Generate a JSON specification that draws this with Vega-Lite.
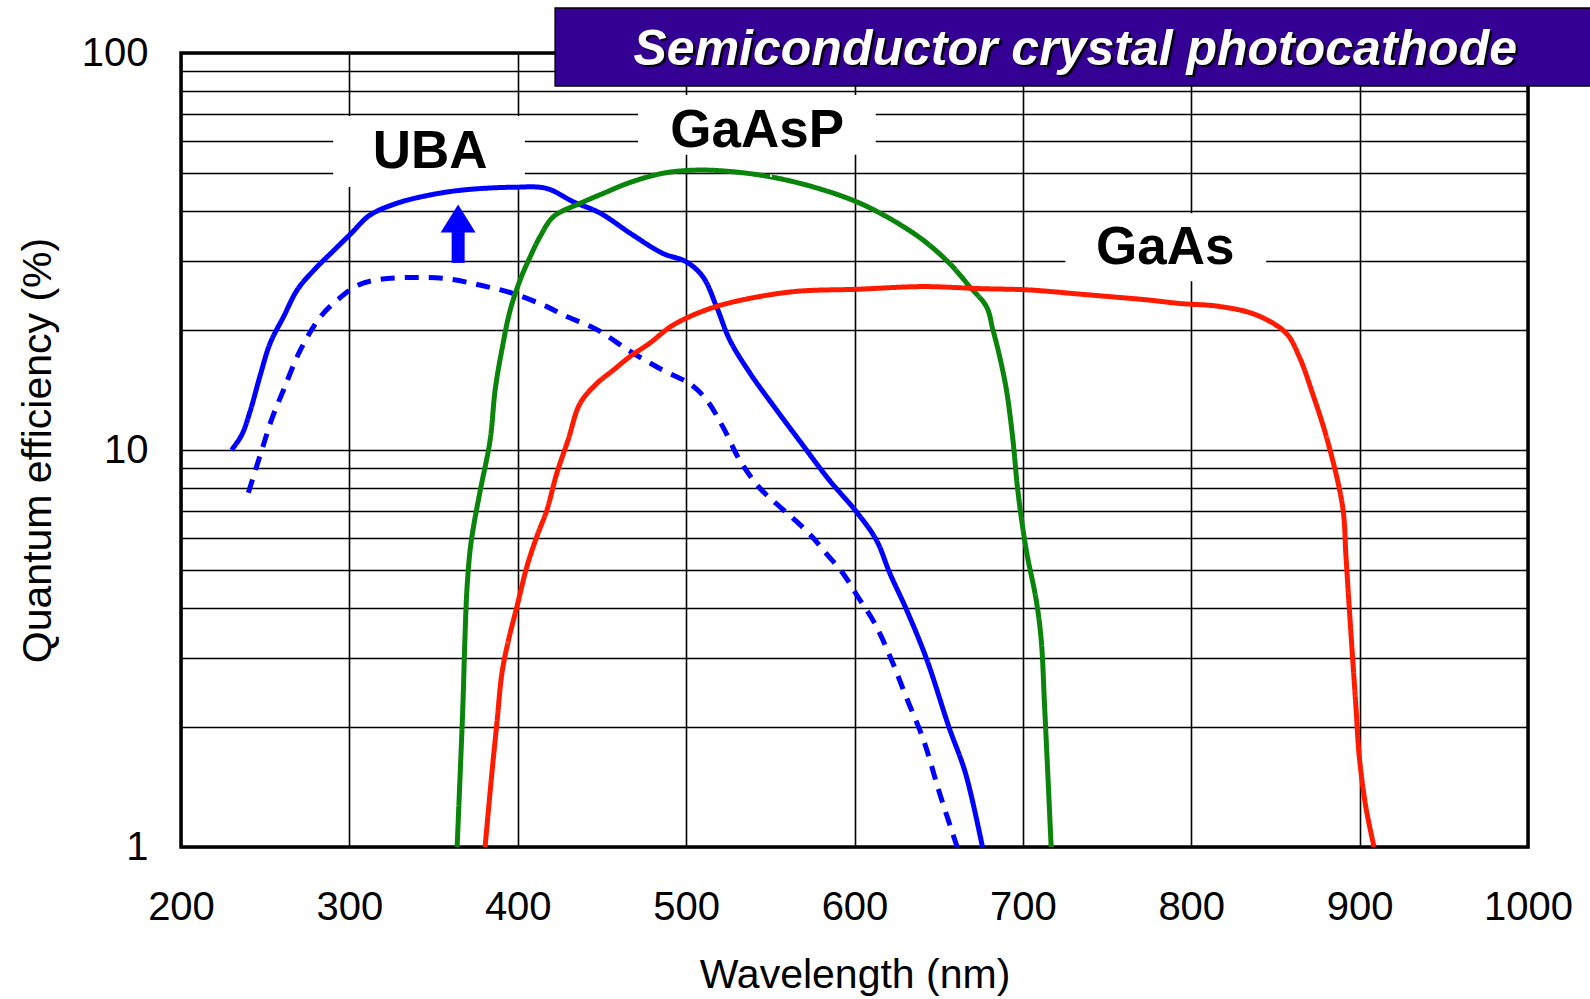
{
  "$schema": "https://vega.github.io/schema/vega-lite/v6.json",
  "width": 1347,
  "height": 794,
  "autosize": {"type": "none"},
  "padding": {"left": 181, "top": 53, "right": 62, "bottom": 152},
  "background": "white",
  "config": {
    "view": {"stroke": "#000000", "strokeWidth": 3.5},
    "font": "Liberation Sans",
    "axis": {
      "grid": true, "gridColor": "#000000", "gridWidth": 1.6, "gridOpacity": 1,
      "domain": false, "ticks": false,
      "labelFont": "Liberation Sans", "labelFontSize": 40, "labelColor": "#000000",
      "labelOverlap": false, "labelFlush": false,
      "titleFont": "Liberation Sans", "titleFontSize": 41, "titleFontWeight": "normal", "titleColor": "#000000"
    }
  },
  "datasets": {
    "curves": [
      {"series": "UBA", "wavelength": 230, "qe": 10.0},
      {"series": "UBA", "wavelength": 236, "qe": 10.9},
      {"series": "UBA", "wavelength": 241, "qe": 12.5},
      {"series": "UBA", "wavelength": 247, "qe": 15.4},
      {"series": "UBA", "wavelength": 253, "qe": 18.6},
      {"series": "UBA", "wavelength": 261, "qe": 21.7},
      {"series": "UBA", "wavelength": 269, "qe": 25.3},
      {"series": "UBA", "wavelength": 279, "qe": 28.4},
      {"series": "UBA", "wavelength": 291, "qe": 31.9},
      {"series": "UBA", "wavelength": 301, "qe": 35.1},
      {"series": "UBA", "wavelength": 312, "qe": 39.0},
      {"series": "UBA", "wavelength": 328, "qe": 41.8},
      {"series": "UBA", "wavelength": 348, "qe": 43.9},
      {"series": "UBA", "wavelength": 368, "qe": 45.2},
      {"series": "UBA", "wavelength": 397, "qe": 45.9},
      {"series": "UBA", "wavelength": 417, "qe": 45.6},
      {"series": "UBA", "wavelength": 433, "qe": 42.2},
      {"series": "UBA", "wavelength": 449, "qe": 39.5},
      {"series": "UBA", "wavelength": 467, "qe": 35.1},
      {"series": "UBA", "wavelength": 486, "qe": 31.3},
      {"series": "UBA", "wavelength": 500, "qe": 29.8},
      {"series": "UBA", "wavelength": 510, "qe": 27.3},
      {"series": "UBA", "wavelength": 518, "qe": 23.0},
      {"series": "UBA", "wavelength": 526, "qe": 18.9},
      {"series": "UBA", "wavelength": 538, "qe": 15.6},
      {"series": "UBA", "wavelength": 552, "qe": 12.9},
      {"series": "UBA", "wavelength": 567, "qe": 10.6},
      {"series": "UBA", "wavelength": 585, "qe": 8.4},
      {"series": "UBA", "wavelength": 601, "qe": 7.0},
      {"series": "UBA", "wavelength": 613, "qe": 5.93},
      {"series": "UBA", "wavelength": 621, "qe": 4.89},
      {"series": "UBA", "wavelength": 631, "qe": 3.95},
      {"series": "UBA", "wavelength": 643, "qe": 2.96},
      {"series": "UBA", "wavelength": 656, "qe": 2.01},
      {"series": "UBA", "wavelength": 666, "qe": 1.53},
      {"series": "UBA", "wavelength": 676, "qe": 1.0},
      {"series": "UBA (before)", "wavelength": 240, "qe": 7.8},
      {"series": "UBA (before)", "wavelength": 248, "qe": 10.0},
      {"series": "UBA (before)", "wavelength": 254, "qe": 12.0},
      {"series": "UBA (before)", "wavelength": 261, "qe": 14.2},
      {"series": "UBA (before)", "wavelength": 271, "qe": 17.9},
      {"series": "UBA (before)", "wavelength": 283, "qe": 21.7},
      {"series": "UBA (before)", "wavelength": 293, "qe": 23.9},
      {"series": "UBA (before)", "wavelength": 305, "qe": 26.0},
      {"series": "UBA (before)", "wavelength": 318, "qe": 26.9},
      {"series": "UBA (before)", "wavelength": 338, "qe": 27.2},
      {"series": "UBA (before)", "wavelength": 358, "qe": 27.0},
      {"series": "UBA (before)", "wavelength": 378, "qe": 26.0},
      {"series": "UBA (before)", "wavelength": 397, "qe": 24.8},
      {"series": "UBA (before)", "wavelength": 417, "qe": 23.0},
      {"series": "UBA (before)", "wavelength": 427, "qe": 21.9},
      {"series": "UBA (before)", "wavelength": 447, "qe": 20.1},
      {"series": "UBA (before)", "wavelength": 467, "qe": 17.7},
      {"series": "UBA (before)", "wavelength": 486, "qe": 15.9},
      {"series": "UBA (before)", "wavelength": 502, "qe": 14.7},
      {"series": "UBA (before)", "wavelength": 512, "qe": 13.4},
      {"series": "UBA (before)", "wavelength": 522, "qe": 11.4},
      {"series": "UBA (before)", "wavelength": 532, "qe": 9.4},
      {"series": "UBA (before)", "wavelength": 544, "qe": 8.0},
      {"series": "UBA (before)", "wavelength": 554, "qe": 7.3},
      {"series": "UBA (before)", "wavelength": 564, "qe": 6.7},
      {"series": "UBA (before)", "wavelength": 574, "qe": 6.1},
      {"series": "UBA (before)", "wavelength": 583, "qe": 5.5},
      {"series": "UBA (before)", "wavelength": 593, "qe": 4.9},
      {"series": "UBA (before)", "wavelength": 602, "qe": 4.27},
      {"series": "UBA (before)", "wavelength": 612, "qe": 3.66},
      {"series": "UBA (before)", "wavelength": 622, "qe": 2.96},
      {"series": "UBA (before)", "wavelength": 631, "qe": 2.37},
      {"series": "UBA (before)", "wavelength": 641, "qe": 1.86},
      {"series": "UBA (before)", "wavelength": 650, "qe": 1.39},
      {"series": "UBA (before)", "wavelength": 659, "qe": 1.06},
      {"series": "UBA (before)", "wavelength": 661, "qe": 1.0},
      {"series": "GaAsP", "wavelength": 364, "qe": 1.0},
      {"series": "GaAsP", "wavelength": 365.8, "qe": 1.53},
      {"series": "GaAsP", "wavelength": 367.4, "qe": 2.26},
      {"series": "GaAsP", "wavelength": 368.6, "qe": 3.32},
      {"series": "GaAsP", "wavelength": 369.8, "qe": 4.44},
      {"series": "GaAsP", "wavelength": 371.7, "qe": 5.6},
      {"series": "GaAsP", "wavelength": 373.7, "qe": 6.4},
      {"series": "GaAsP", "wavelength": 377.7, "qe": 7.9},
      {"series": "GaAsP", "wavelength": 383.6, "qe": 10.6},
      {"series": "GaAsP", "wavelength": 386.6, "qe": 14.2},
      {"series": "GaAsP", "wavelength": 390.6, "qe": 17.9},
      {"series": "GaAsP", "wavelength": 395.5, "qe": 22.5},
      {"series": "GaAsP", "wavelength": 401.4, "qe": 26.8},
      {"series": "GaAsP", "wavelength": 407.4, "qe": 30.7},
      {"series": "GaAsP", "wavelength": 413.3, "qe": 34.5},
      {"series": "GaAsP", "wavelength": 421.2, "qe": 38.7},
      {"series": "GaAsP", "wavelength": 437, "qe": 41.8},
      {"series": "GaAsP", "wavelength": 450.8, "qe": 44.3},
      {"series": "GaAsP", "wavelength": 466.7, "qe": 47.2},
      {"series": "GaAsP", "wavelength": 486.4, "qe": 49.8},
      {"series": "GaAsP", "wavelength": 506.2, "qe": 50.7},
      {"series": "GaAsP", "wavelength": 526, "qe": 50.3},
      {"series": "GaAsP", "wavelength": 549.7, "qe": 48.8},
      {"series": "GaAsP", "wavelength": 575.4, "qe": 46.0},
      {"series": "GaAsP", "wavelength": 601.2, "qe": 42.2},
      {"series": "GaAsP", "wavelength": 620.9, "qe": 38.3},
      {"series": "GaAsP", "wavelength": 640.7, "qe": 33.8},
      {"series": "GaAsP", "wavelength": 656.5, "qe": 29.5},
      {"series": "GaAsP", "wavelength": 668.4, "qe": 25.8},
      {"series": "GaAsP", "wavelength": 678.3, "qe": 23.0},
      {"series": "GaAsP", "wavelength": 682.2, "qe": 20.1},
      {"series": "GaAsP", "wavelength": 686.2, "qe": 17.2},
      {"series": "GaAsP", "wavelength": 690.2, "qe": 14.2},
      {"series": "GaAsP", "wavelength": 694.1, "qe": 10.6},
      {"series": "GaAsP", "wavelength": 697, "qe": 7.9},
      {"series": "GaAsP", "wavelength": 702, "qe": 5.6},
      {"series": "GaAsP", "wavelength": 707.9, "qe": 4.19},
      {"series": "GaAsP", "wavelength": 710.9, "qe": 3.32},
      {"series": "GaAsP", "wavelength": 712.9, "qe": 2.26},
      {"series": "GaAsP", "wavelength": 714.8, "qe": 1.53},
      {"series": "GaAsP", "wavelength": 716.8, "qe": 1.0},
      {"series": "GaAs", "wavelength": 380.6, "qe": 1.0},
      {"series": "GaAs", "wavelength": 384.6, "qe": 1.53},
      {"series": "GaAs", "wavelength": 387.6, "qe": 2.05},
      {"series": "GaAs", "wavelength": 390.6, "qe": 2.74},
      {"series": "GaAs", "wavelength": 394.5, "qe": 3.32},
      {"series": "GaAs", "wavelength": 399.5, "qe": 4.03},
      {"series": "GaAs", "wavelength": 405.4, "qe": 5.08},
      {"series": "GaAs", "wavelength": 411.3, "qe": 6.05},
      {"series": "GaAs", "wavelength": 417.3, "qe": 7.06},
      {"series": "GaAs", "wavelength": 423.2, "qe": 8.74},
      {"series": "GaAs", "wavelength": 429.9, "qe": 10.6},
      {"series": "GaAs", "wavelength": 437, "qe": 13.1},
      {"series": "GaAs", "wavelength": 446.9, "qe": 14.7},
      {"series": "GaAs", "wavelength": 456.8, "qe": 15.9},
      {"series": "GaAs", "wavelength": 466.7, "qe": 17.2},
      {"series": "GaAs", "wavelength": 478.5, "qe": 18.6},
      {"series": "GaAs", "wavelength": 490.4, "qe": 20.4},
      {"series": "GaAs", "wavelength": 502.3, "qe": 21.7},
      {"series": "GaAs", "wavelength": 518.1, "qe": 23.0},
      {"series": "GaAs", "wavelength": 537.9, "qe": 24.1},
      {"series": "GaAs", "wavelength": 565.6, "qe": 25.1},
      {"series": "GaAs", "wavelength": 601.2, "qe": 25.4},
      {"series": "GaAs", "wavelength": 640.7, "qe": 25.8},
      {"series": "GaAs", "wavelength": 674.3, "qe": 25.5},
      {"series": "GaAs", "wavelength": 704, "qe": 25.3},
      {"series": "GaAs", "wavelength": 733.6, "qe": 24.7},
      {"series": "GaAs", "wavelength": 753.4, "qe": 24.3},
      {"series": "GaAs", "wavelength": 773.2, "qe": 23.9},
      {"series": "GaAs", "wavelength": 792.9, "qe": 23.4},
      {"series": "GaAs", "wavelength": 816.6, "qe": 23.0},
      {"series": "GaAs", "wavelength": 838.5, "qe": 21.9},
      {"series": "GaAs", "wavelength": 856.3, "qe": 19.7},
      {"series": "GaAs", "wavelength": 864.1, "qe": 17.2},
      {"series": "GaAs", "wavelength": 872, "qe": 13.9},
      {"series": "GaAs", "wavelength": 880.8, "qe": 10.6},
      {"series": "GaAs", "wavelength": 889.9, "qe": 7.2},
      {"series": "GaAs", "wavelength": 891.9, "qe": 5.39},
      {"series": "GaAs", "wavelength": 893.8, "qe": 4.03},
      {"series": "GaAs", "wavelength": 895.8, "qe": 3.01},
      {"series": "GaAs", "wavelength": 897.8, "qe": 2.26},
      {"series": "GaAs", "wavelength": 899.8, "qe": 1.69},
      {"series": "GaAs", "wavelength": 903.7, "qe": 1.26},
      {"series": "GaAs", "wavelength": 908.6, "qe": 1.0}
    ],
    "labelBoxes": [
      {"name": "UBA", "wavelength": 290.4, "wavelength_end": 404.2, "qe": 46.0, "qe_end": 69.4},
      {"name": "GaAsP", "wavelength": 471.4, "wavelength_end": 612.6, "qe": 55.4, "qe_end": 78.4},
      {"name": "GaAs", "wavelength": 725.2, "wavelength_end": 844.5, "qe": 26.6, "qe_end": 39.5}
    ],
    "labelTexts": [
      {"text": "UBA", "wavelength": 348, "qe": 51.25},
      {"text": "GaAsP", "wavelength": 542.2, "qe": 57.9},
      {"text": "GaAs", "wavelength": 784.5, "qe": 29.4}
    ],
    "arrowShaft": [{"wavelength": 364.6, "qe": 29.6, "qe_end": 35.4}],
    "arrowHead": [{"wavelength": 364.6, "qe": 38.3}],
    "banner": [{"wavelength": 422.2, "wavelength_end": 1040, "qe": 82.6, "qe_end": 129.9}],
    "bannerText": [{"text": "Semiconductor crystal photocathode", "wavelength": 731.1, "qe": 93.3}]
  },
  "layer": [
    {
      "data": {"name": "labelBoxes"},
      "mark": {"type": "rect", "fill": "#ffffff", "strokeWidth": 0},
      "encoding": {
        "x": {
          "field": "wavelength", "type": "quantitative",
          "scale": {"domain": [200, 1000], "nice": false, "zero": false},
          "axis": {
            "values": [200, 300, 400, 500, 600, 700, 800, 900, 1000],
            "labelExpr": "'' + datum.value",
            "labelPadding": 40,
            "title": "Wavelength (nm)",
            "titleBaseline": "alphabetic",
            "titleX": 673.5,
            "titleY": 140
          }
        },
        "x2": {"field": "wavelength_end"},
        "y": {
          "field": "qe", "type": "quantitative",
          "scale": {"type": "log", "domain": [1, 100], "nice": false},
          "axis": {
            "values": [1, 2, 3, 4, 5, 6, 7, 8, 9, 10, 20, 30, 40, 50, 60, 70, 80, 90, 100],
            "labelExpr": "datum.value == 1 || datum.value == 10 || datum.value == 100 ? '' + datum.value : ''",
            "labelPadding": 33,
            "title": "Quantum efficiency (%)",
            "titleBaseline": "alphabetic",
            "titleAngle": 270,
            "titleX": -131,
            "titleY": 397
          }
        },
        "y2": {"field": "qe_end"}
      }
    },
    {
      "data": {"name": "labelTexts"},
      "mark": {"type": "text", "font": "Liberation Sans", "fontSize": 53, "fontWeight": "bold", "color": "#000000", "align": "center", "baseline": "alphabetic"},
      "encoding": {
        "x": {"field": "wavelength", "type": "quantitative"},
        "y": {"field": "qe", "type": "quantitative"},
        "text": {"field": "text"}
      }
    },
    {
      "data": {"name": "curves"},
      "mark": {"type": "line", "strokeWidth": 5, "interpolate": "catmull-rom", "strokeCap": "butt"},
      "encoding": {
        "x": {"field": "wavelength", "type": "quantitative"},
        "y": {"field": "qe", "type": "quantitative"},
        "color": {
          "field": "series", "type": "nominal",
          "scale": {"domain": ["UBA", "UBA (before)", "GaAsP", "GaAs"], "range": ["#0000ff", "#0000ff", "#0a840a", "#ff1a00"]},
          "legend": null
        },
        "strokeDash": {
          "field": "series", "type": "nominal",
          "scale": {"domain": ["UBA", "UBA (before)", "GaAsP", "GaAs"], "range": [[1, 0], [14, 10], [1, 0], [1, 0]]},
          "legend": null
        }
      }
    },
    {
      "data": {"name": "arrowShaft"},
      "mark": {"type": "rule", "color": "#0000ff", "strokeWidth": 13, "strokeCap": "butt"},
      "encoding": {
        "x": {"field": "wavelength", "type": "quantitative"},
        "y": {"field": "qe", "type": "quantitative"},
        "y2": {"field": "qe_end"}
      }
    },
    {
      "data": {"name": "arrowHead"},
      "mark": {"type": "point", "shape": "M-1,0.8L0,-0.8L1,0.8Z", "filled": true, "color": "#0000ff", "opacity": 1, "size": 1225, "strokeWidth": 0},
      "encoding": {
        "x": {"field": "wavelength", "type": "quantitative"},
        "y": {"field": "qe", "type": "quantitative"}
      }
    },
    {
      "data": {"name": "banner"},
      "mark": {"type": "rect", "fill": "#340094", "stroke": "#000000", "strokeWidth": 1.5},
      "encoding": {
        "x": {"field": "wavelength", "type": "quantitative"},
        "x2": {"field": "wavelength_end"},
        "y": {"field": "qe", "type": "quantitative"},
        "y2": {"field": "qe_end"}
      }
    },
    {
      "data": {"name": "bannerText"},
      "mark": {"type": "text", "font": "Liberation Sans", "fontSize": 50, "fontWeight": "bold", "fontStyle": "italic", "color": "#000000", "opacity": 0.85, "align": "center", "baseline": "alphabetic", "dx": 2.5, "dy": 2.5},
      "encoding": {
        "x": {"field": "wavelength", "type": "quantitative"},
        "y": {"field": "qe", "type": "quantitative"},
        "text": {"field": "text"}
      }
    },
    {
      "data": {"name": "bannerText"},
      "mark": {"type": "text", "font": "Liberation Sans", "fontSize": 50, "fontWeight": "bold", "fontStyle": "italic", "color": "#ffffff", "align": "center", "baseline": "alphabetic"},
      "encoding": {
        "x": {"field": "wavelength", "type": "quantitative"},
        "y": {"field": "qe", "type": "quantitative"},
        "text": {"field": "text"}
      }
    }
  ]
}
